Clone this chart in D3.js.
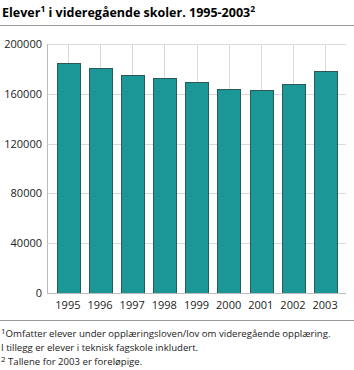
<!DOCTYPE html>
<html lang="no">
<head>
<meta charset="UTF-8">
<title>Elever i videregående skoler</title>
<script src="https://cdn.jsdelivr.net/npm/d3@7"></script>
<style>
  body { margin: 0; background: #fff; }
  svg { display: block; font-family: "Open Sans", Arial, sans-serif; }
</style>
</head>
<body>
<div id="chart"></div>
<script>
// data
const years = ["1995", "1996", "1997", "1998", "1999", "2000", "2001", "2002", "2003"];
const pupils = [185000, 180500, 175100, 172400, 169200, 164000, 163000, 167900, 178000];
const yTicks = [0, 40000, 80000, 120000, 160000, 200000];
const footnotes = [
  { sup: "1", text: "Omfatter elever under opplæringsloven/lov om videregående opplæring." },
  { sup: "", text: "I tillegg er elever i teknisk fagskole inkludert." },
  { sup: "2", text: " Tallene for 2003 er foreløpige." }
];

const W = 354, H = 370;
const plot = { left: 47, right: 346, top: 44, bottom: 293 };

const svg = d3.select("#chart").append("svg")
  .attr("width", W).attr("height", H);

// title
const title = svg.append("text")
  .attr("x", 2).attr("y", 17)
  .attr("font-size", 12.5).attr("font-weight", "bold").attr("fill", "#000");
title.append("tspan").text("Elever");
title.append("tspan").attr("font-size", 8.5).attr("dy", -5).text("1");
title.append("tspan").attr("dy", 5).text(" i videregående skoler. 1995-2003");
title.append("tspan").attr("font-size", 8.5).attr("dy", -5).text("2");

svg.append("line")
  .attr("x1", 0).attr("x2", W).attr("y1", 25.5).attr("y2", 25.5)
  .attr("stroke", "#999").attr("stroke-width", 1);

const x = d3.scaleBand().domain(years).range([plot.left, plot.right]).padding(0.3);
const y = d3.scaleLinear().domain([0, 200000]).range([plot.bottom, plot.top]);

// horizontal grid
svg.append("g").selectAll("line").data(yTicks.filter(d => d > 0)).join("line")
  .attr("x1", plot.left).attr("x2", plot.right)
  .attr("y1", d => Math.round(y(d)) + 0.5).attr("y2", d => Math.round(y(d)) + 0.5)
  .attr("stroke", "#d9d9d9");

// vertical grid at bar centers
svg.append("g").selectAll("line").data(years).join("line")
  .attr("x1", d => Math.round(x(d) + x.bandwidth() / 2) + 0.5)
  .attr("x2", d => Math.round(x(d) + x.bandwidth() / 2) + 0.5)
  .attr("y1", plot.top).attr("y2", plot.bottom)
  .attr("stroke", "#d9d9d9");

// bars
svg.append("g").selectAll("rect").data(years).join("rect")
  .attr("x", d => Math.round(x(d)) + 0.5)
  .attr("width", Math.round(x.bandwidth()))
  .attr("y", (d, i) => Math.round(y(pupils[i])) + 0.5)
  .attr("height", (d, i) => Math.round(plot.bottom - y(pupils[i])))
  .attr("fill", "#1b9797")
  .attr("stroke", "#2a5a58").attr("stroke-width", 1);

// axis lines
svg.append("line")
  .attr("x1", plot.left + 0.5).attr("x2", plot.left + 0.5)
  .attr("y1", plot.top).attr("y2", plot.bottom)
  .attr("stroke", "#bbb");
svg.append("line")
  .attr("x1", plot.left).attr("x2", plot.right)
  .attr("y1", plot.bottom + 0.5).attr("y2", plot.bottom + 0.5)
  .attr("stroke", "#bbb");

// y tick labels
svg.append("g").selectAll("text").data(yTicks).join("text")
  .attr("x", 42).attr("y", d => y(d) + 4)
  .attr("text-anchor", "end").attr("font-size", 11).attr("fill", "#222")
  .text(d => d);

// x tick labels
svg.append("g").selectAll("text").data(years).join("text")
  .attr("x", d => x(d) + x.bandwidth() / 2).attr("y", 309)
  .attr("text-anchor", "middle").attr("font-size", 11).attr("fill", "#222")
  .text(d => d);

// footnote separator
svg.append("line")
  .attr("x1", 0).attr("x2", W).attr("y1", 320.5).attr("y2", 320.5)
  .attr("stroke", "#999");

// footnotes
footnotes.forEach((f, i) => {
  const t = svg.append("text")
    .attr("x", 1).attr("y", 337 + i * 14)
    .attr("font-size", 9.6).attr("fill", "#222");
  if (f.sup) {
    t.append("tspan").attr("font-size", 8).attr("dy", -3.5).text(f.sup);
    t.append("tspan").attr("dy", 3.5).text(f.text);
  } else {
    t.append("tspan").text(f.text);
  }
});
</script>
</body>
</html>
